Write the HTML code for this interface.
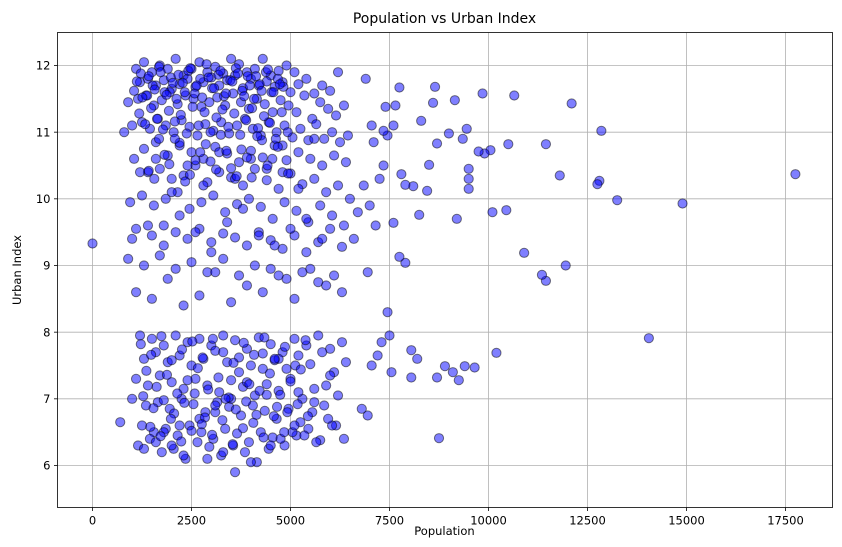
<!DOCTYPE html>
<html><head><meta charset="utf-8">
<style>
html,body{margin:0;padding:0;background:#fff;}
svg{display:block;font-family:"DejaVu Sans","Liberation Sans",sans-serif;}
</style></head>
<body>
<svg id="chart" width="842" height="547" viewBox="0 0 842 547" xmlns="http://www.w3.org/2000/svg">
<rect x="0" y="0" width="842" height="547" fill="#fff"/>
<text x="444.5" y="23" font-size="14" text-anchor="middle" fill="#000">Population vs Urban Index</text>
<g id="grid"></g>
<g id="points"></g>
<rect x="57.5" y="32.5" width="775" height="475" fill="none" stroke="#000" stroke-width="0.8"/>
<g id="axes"></g>
<text x="444.5" y="535" font-size="11.5" text-anchor="middle">Population</text>
<text x="0" y="0" font-size="11.5" text-anchor="middle" transform="translate(21,270) rotate(-90)">Urban Index</text>
</svg>
<script>
const xTicks=[0,2500,5000,7500,10000,12500,15000,17500];
const yTicks=[6,7,8,9,10,11,12];
const popValues=[0,17750,14900,14050,13250,12850,12800,12750,12100,11950,11800,11450,11450,11350,10900,10650,10500,10450,10200,10100,10050,9900,9850,9750,9650,9500,9500,9500,9450,9400,9350,9250,9200,9150,9100,9000,8900,8750,8700,8700,8650,8600,8500,8450,8300,8250,8200,8100,8050,8050,7900,7900,7800,7750,7750,7650,7600,7550,7500,7450,7400,7350,7300,7200,7150,7100,7050,7000,6950,6900,6850,6800,6700,7050,7350,7600,7450,7250,6600,6500,6950,
1100,1300,1500,1700,1900,2100,2300,2500,2700,2900,3100,3300,3500,3700,3900,4100,4300,4500,4700,4900,5100,1200,1400,1600,1800,2000,2200,2400,2600,2800,3000,3200,3400,3600,3800,4000,4200,4400,4600,4800,5000,5200,5400,5600,5800,6000,6200,
900,1150,1350,1550,1750,1950,2150,2350,2550,2750,2950,3150,3350,3550,3750,3950,4150,4350,4550,4750,4950,5150,5350,5550,5750,5950,6150,6350,
800,1000,1250,1450,1650,1850,2050,2250,2450,2650,2850,3050,3250,3450,3650,3850,4050,4250,4450,4650,4850,5050,5250,5450,5650,5850,6050,6250,6450,
1050,1300,1600,1900,2200,2500,2800,3100,3400,3700,4000,4300,4600,4900,5200,5500,5800,6100,6400,1400,1700,2000,2300,2600,2900,3200,3500,3800,4100,4400,4700,5000,5300,5600,5900,
950,1250,1550,1850,2150,2450,2750,3050,3350,3650,3950,4250,4550,4850,5150,5450,5750,6050,6350,1100,1500,1800,2100,2400,2700,3000,3300,3600,3900,4200,4500,4800,5100,5400,5700,6000,6300,
900,1300,1700,2100,2500,2900,3300,3700,4100,4500,4900,5300,5700,6100,1100,1500,1900,2300,2700,3100,3500,3900,4300,4700,5100,5500,5900,6300,1000,1400,1800,2200,2600,3000,3400,3800,4200,4600,5000,5400,5800,1200,1600,2000,2400,2800,3200,3600,4000,4400,4800,5200,5600,6200,
1200,1500,1800,2100,2400,2700,3000,3300,3600,3900,4200,4500,4800,5100,5400,5700,6000,6300,1300,1600,1900,2200,2500,2800,3100,3400,3700,4000,4300,4600,4900,5200,5500,5800,6100,6400,
1100,1400,1700,2000,2300,2600,2900,3200,3500,3800,4100,4400,4700,5000,5300,5600,5900,6200,1000,1350,1650,1950,2250,2550,2850,3150,3450,3750,4050,4350,4650,4950,5250,5550,5850,6150,
700,1250,1550,1850,2150,2450,2750,3050,3350,3650,3950,4250,4550,4850,5150,5450,5750,6050,1150,1450,1750,2050,2350,2650,2950,3250,3550,3850,4150,4450,4750,5050,5350,5650,5950,6350,
1300,1600,2000,2300,2900,3300,3600,4000,4500,1800,2200,2700,3100,3500,3900,4300,4700,5200,5600,6000,
1050,1220,1380,1520,1680,1820,1980,2120,2280,2420,2580,2720,2880,3020,3180,3320,3480,3620,3780,3920,4080,4220,4380,4520,4680,4820,
1120,1260,1420,1570,1720,1870,2030,2170,2330,2470,2630,2770,2930,3070,3230,3370,3530,3670,3830,3970,4130,4270,4430,4570,4730,
1180,1330,1480,1630,1780,1930,2080,2230,2380,2530,2680,2830,2980,3130,3280,3430,3580,3730,3880,4030,4180,4330,4480,4630,4780,4930,
1420,1680,1940,2200,2460,2720,2980,3240,3500,3760,4020,4280,4540,4800,
1560,1820,2080,2340,2600,2860,3120,3380,3640,3900,4160,4420,4680,4940,
1220,1480,1740,2000,2260,2520,2780,3040,3300,3560,3820,4080,4340,4600,4860,5120,5380,
1360,1620,1880,2140,2400,2660,2920,3180,3440,3700,3960,4220,4480,4740,5000,5260,
1280,1540,1800,2060,2320,2580,2840,3100,3360,3620,3880,4140,4400,4660,4920,5180,5440,
1460,1720,1980,2240,2500,2760,3020,3280,3540,3800,4060,4320,4580,4840,5100];
const urbanValues=[9.33,10.37,9.93,7.91,9.98,11.02,10.27,10.22,11.43,9.0,10.35,10.82,8.77,8.86,9.19,11.55,10.82,9.83,7.69,9.8,10.73,10.68,11.58,10.71,7.47,10.45,10.3,10.15,11.05,7.49,10.9,7.28,9.7,11.48,7.4,10.98,7.49,6.41,7.32,10.83,11.68,11.44,10.51,10.12,11.17,9.76,7.6,10.19,7.32,7.73,10.21,9.04,10.37,11.67,9.13,11.4,9.64,7.4,7.95,10.95,11.38,11.02,7.85,7.65,9.6,10.85,11.1,9.9,8.9,11.8,10.2,6.85,9.8,7.5,10.5,11.1,8.3,10.3,9.4,10.0,6.75,
11.95,12.05,11.9,12.0,11.95,12.1,11.85,11.95,12.05,11.9,11.98,11.88,12.1,12.02,11.9,11.95,12.1,11.85,11.92,12.0,11.9,11.75,11.8,11.7,11.78,11.65,11.72,11.8,11.68,11.75,11.82,11.7,11.78,11.85,11.66,11.8,11.7,11.76,11.68,11.75,11.6,11.72,11.8,11.58,11.7,11.62,11.9,
11.45,11.5,11.55,11.4,11.48,11.6,11.42,11.55,11.5,11.38,11.45,11.52,11.4,11.58,11.45,11.35,11.5,11.42,11.3,11.48,11.4,11.3,11.55,11.2,11.45,11.35,11.25,11.4,
11.0,11.1,11.15,11.05,11.2,11.1,11.0,11.18,11.08,10.95,11.12,11.02,11.15,10.98,11.1,11.2,11.05,10.95,11.15,11.0,11.1,10.92,11.05,10.88,11.12,10.9,11.0,10.85,10.95,
10.6,10.75,10.85,10.65,10.8,10.7,10.6,10.78,10.68,10.55,10.72,10.62,10.8,10.58,10.7,10.6,10.5,10.65,10.55,10.4,10.45,10.3,10.35,10.5,10.25,10.4,10.32,10.2,10.45,10.28,10.15,10.38,10.22,10.3,10.1,
9.95,10.05,9.9,10.0,10.1,9.85,9.95,10.05,9.8,9.92,10.0,9.88,9.7,9.95,9.82,9.65,9.9,9.75,9.6,9.55,9.45,9.6,9.5,9.4,9.55,9.35,9.48,9.42,9.3,9.5,9.38,9.25,9.45,9.2,9.35,9.55,9.28,
9.1,9.0,9.15,8.95,9.05,8.9,9.1,8.85,9.0,8.95,8.8,8.9,8.75,8.85,8.6,8.5,8.8,8.4,8.55,8.9,8.45,8.7,8.6,8.85,8.5,8.95,8.7,8.6,9.4,9.6,9.3,9.75,9.5,9.2,9.65,9.85,9.45,9.3,9.55,9.7,9.4,10.4,10.6,10.1,10.5,10.2,10.7,10.3,10.6,10.45,10.8,10.15,10.9,10.2,
7.95,7.9,7.8,7.95,7.85,7.9,7.8,7.95,7.88,7.75,7.92,7.82,7.7,7.9,7.8,7.95,7.75,7.85,7.6,7.7,7.55,7.65,7.5,7.6,7.72,7.55,7.62,7.5,7.68,7.58,7.45,7.65,7.52,7.7,7.4,7.55,
7.3,7.2,7.35,7.25,7.15,7.3,7.2,7.1,7.28,7.18,7.05,7.22,7.12,7.3,7.0,7.15,7.2,7.05,7.0,6.9,6.95,6.85,7.0,6.92,6.8,6.95,6.88,6.75,6.9,6.82,6.7,6.85,6.65,6.8,6.9,6.6,
6.65,6.6,6.5,6.55,6.45,6.6,6.5,6.4,6.55,6.48,6.35,6.5,6.42,6.3,6.45,6.55,6.38,6.6,6.3,6.4,6.2,6.25,6.1,6.35,6.28,6.15,6.3,6.2,6.05,6.25,6.4,6.5,6.45,6.35,6.7,6.4,
6.25,6.35,6.3,6.15,6.1,6.2,5.9,6.05,6.3,6.5,6.6,6.7,6.8,7.0,7.25,7.45,7.6,7.1,6.95,7.35,
11.62,11.88,11.55,11.7,11.98,11.6,11.82,11.5,11.74,11.92,11.58,11.8,12.02,11.66,11.86,11.54,11.78,11.96,11.62,11.84,11.5,11.72,11.9,11.6,11.8,11.68,
11.76,11.52,11.84,11.64,11.9,11.56,11.74,11.86,11.6,11.96,11.7,11.52,11.82,11.66,11.92,11.58,11.76,11.88,11.54,11.7,11.84,11.62,11.94,11.6,11.72,
11.28,11.12,11.36,11.2,11.04,11.32,11.16,11.26,10.98,11.38,11.1,11.3,11.0,11.22,11.34,11.08,11.28,10.96,11.18,11.36,11.06,11.24,11.14,10.9,11.3,11.0,
10.42,10.9,10.52,10.84,10.36,10.7,10.56,10.96,10.46,10.74,10.32,10.88,10.6,10.4,
10.3,10.66,10.9,10.26,10.58,10.82,10.44,10.72,10.34,10.62,10.94,10.5,10.78,10.38,
7.82,7.66,7.94,7.58,7.74,7.86,7.62,7.9,7.7,7.54,7.84,7.66,7.92,7.6,7.78,7.5,7.88,
7.42,7.18,7.36,7.08,7.28,7.46,7.14,7.32,7.02,7.4,7.22,7.12,7.38,7.06,7.26,7.44,
7.04,6.86,6.98,6.78,6.94,7.08,6.72,6.9,7.0,6.84,6.96,6.76,7.06,6.88,6.8,6.92,6.74,
6.58,6.44,6.7,6.36,6.52,6.62,6.46,6.68,6.32,6.56,6.64,6.42,6.74,6.5,6.6];
const NS='http://www.w3.org/2000/svg';
const L=57.5,R=832.5,T=32.5,B=507.5;
const xMin=-884,xMax=18687,yMin=5.37,yMax=12.495;
function sx(v){return L+(v-xMin)/(xMax-xMin)*(R-L);}
function sy(v){return B-(v-yMin)/(yMax-yMin)*(B-T);}
const grid=document.getElementById('grid'),axes=document.getElementById('axes'),pts=document.getElementById('points');
function mk(t,a,p){const e=document.createElementNS(NS,t);for(const k in a)e.setAttribute(k,a[k]);p.appendChild(e);return e;}
xTicks.forEach(v=>{const x=sx(v);
 const g=mk('line',{x1:x,x2:x,y1:T,y2:B,stroke:'#b0b0b0','stroke-width':0.8},grid);
 
 
 const t=mk('line',{x1:x,x2:x,y1:B,y2:B+3.5,stroke:'#000','stroke-width':0.8},axes);
 
 
 const l=mk('text',{x:x,y:B+17,'font-size':11.5,'text-anchor':'middle'},axes);l.textContent=v;
 
 
});
yTicks.forEach(v=>{const y=sy(v);
 const g=mk('line',{x1:L,x2:R,y1:y,y2:y,stroke:'#b0b0b0','stroke-width':0.8},grid);
 
 
 const t=mk('line',{x1:L-3.5,x2:L,y1:y,y2:y,stroke:'#000','stroke-width':0.8},axes);
 
 
 const l=mk('text',{x:L-7,y:y+4.2,'font-size':11.5,'text-anchor':'end'},axes);l.textContent=v;
 
 
});
const n=Math.min(popValues.length,urbanValues.length);
for(let i=0;i<n;i++){
 const c=mk('circle',{cx:sx(popValues[i]),cy:sy(urbanValues[i]),r:4.6,fill:'rgba(0,0,255,0.5)',stroke:'rgba(0,0,0,0.5)','stroke-width':1},pts);
 
 
}
</script>
</body></html>
